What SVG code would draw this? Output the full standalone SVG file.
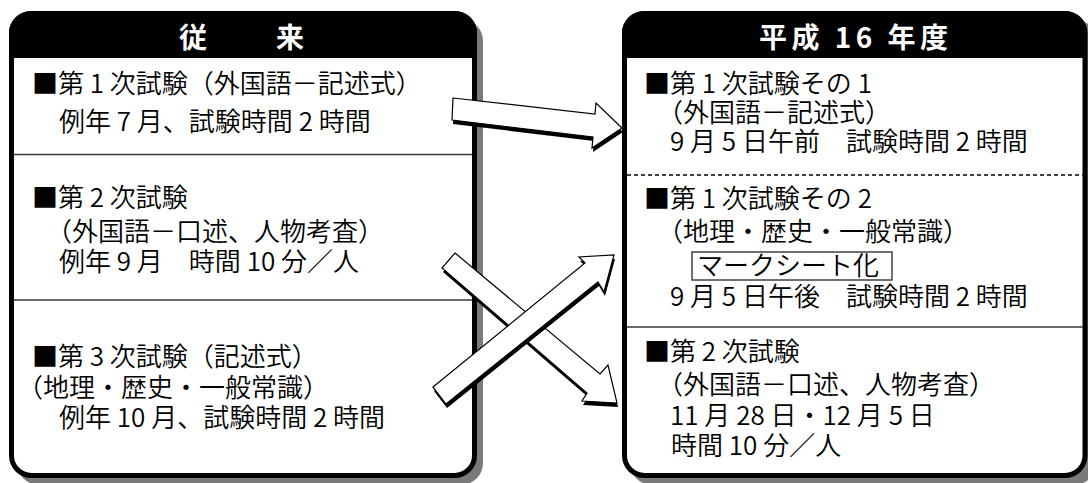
<svg xmlns="http://www.w3.org/2000/svg" width="1088" height="483" viewBox="0 0 1088 483">
<style>
.t{font-family:"Noto Sans CJK JP","Noto Sans CJK SC",sans-serif;font-size:26px;font-weight:350;fill:#000}
.h{font-family:"Noto Sans CJK JP","Noto Sans CJK SC",sans-serif;font-size:28px;font-weight:bold;fill:#fff}
.box{fill:#fff;stroke:#000;stroke-width:5}
.shd{fill:#7a7a7a}
.hdr{fill:#000}
.div{stroke:#3a3a3a;stroke-width:1.5;fill:none}
.dash{stroke:#000;stroke-width:1.3;stroke-dasharray:4 3;fill:none}
.ar{fill:#fff;stroke:#000;stroke-width:1.2;stroke-linejoin:miter}
.ash{fill:#000}
.mk{fill:#fff;stroke:#404040;stroke-width:1.5}
</style>

<g id="old">
<rect class="shd" x="17" y="19" width="466" height="466" rx="22"/>
<rect class="box" x="11.5" y="13.5" width="463" height="462" rx="20"/>
<path class="hdr" d="M9,58 V33 A22,22 0 0 1 31,11 H455 A22,22 0 0 1 477,33 V58 Z"/>
<text class="h" x="179" y="48" textLength="125" lengthAdjust="spacing">従　　来</text>
<line class="div" x1="14" y1="154.5" x2="472" y2="154.5"/>
<line class="div" x1="14" y1="300" x2="472" y2="300"/>
<text class="t" x="32" y="93">■第 1 次試験（外国語－記述式）</text>
<text class="t" x="59" y="131">例年 7 月、試験時間 2 時間</text>
<text class="t" x="32" y="207">■第 2 次試験</text>
<text class="t" x="46" y="241">（外国語－口述、人物考査）</text>
<text class="t" x="59" y="271">例年 9 月　時間 10 分／人</text>
<text class="t" x="32" y="366">■第 3 次試験（記述式）</text>
<text class="t" x="17" y="397">（地理・歴史・一般常識）</text>
<text class="t" x="59" y="427">例年 10 月、試験時間 2 時間</text>
</g>

<g id="new">
<rect class="shd" x="630" y="19" width="466" height="466" rx="22"/>
<rect class="box" x="624.5" y="13.5" width="460.5" height="462" rx="20"/>
<path class="hdr" d="M622,58 V33 A22,22 0 0 1 644,11 H1065 A22,22 0 0 1 1087,33 V58 Z"/>
<text class="h" x="759" y="48" textLength="189" lengthAdjust="spacing">平成 16 年度</text>
<line class="dash" x1="627" y1="175" x2="1083" y2="175"/>
<line class="div" x1="627" y1="327" x2="1083" y2="327"/>
<text class="t" x="644" y="93">■第 1 次試験その 1</text>
<text class="t" x="657" y="122">（外国語－記述式）</text>
<text class="t" x="670" y="151">9 月 5 日午前　試験時間 2 時間</text>
<text class="t" x="644" y="208">■第 1 次試験その 2</text>
<text class="t" x="657" y="241">（地理・歴史・一般常識）</text>
<rect class="mk" x="692" y="252" width="200" height="28"/>
<text class="t" x="697" y="275">マークシート化</text>
<text class="t" x="670" y="306">9 月 5 日午後　試験時間 2 時間</text>
<text class="t" x="644" y="361">■第 2 次試験</text>
<text class="t" x="657" y="394">（外国語－口述、人物考査）</text>
<text class="t" x="670" y="425">11 月 28 日・12 月 5 日</text>
<text class="t" x="671" y="455">時間 10 分／人</text>
</g>

<g id="connectors">
<g id="arrow1">
<polygon class="ash" transform="translate(1,4)" points="453,98 595,114 596,103 622,128 592,148 593,137 452,120"/>
<polygon class="ar" points="453,98 595,114 596,103 622,128 592,148 593,137 452,120"/>
</g>
<g id="arrow2">
<polygon class="ash" transform="translate(1,4)" points="455,253 600,374 608,365 617,403 582,401 587,393 442,268"/>
<polygon class="ar" points="455,253 600,374 608,365 617,403 582,401 587,393 442,268"/>
</g>
<g id="arrow3">
<polygon class="ash" transform="translate(1,4)" points="433,387 585,263 579,257 614,255 604,292 598,282 446,404"/>
<polygon class="ar" points="433,387 585,263 579,257 614,255 604,292 598,282 446,404"/>
</g>
</g>
</svg>
